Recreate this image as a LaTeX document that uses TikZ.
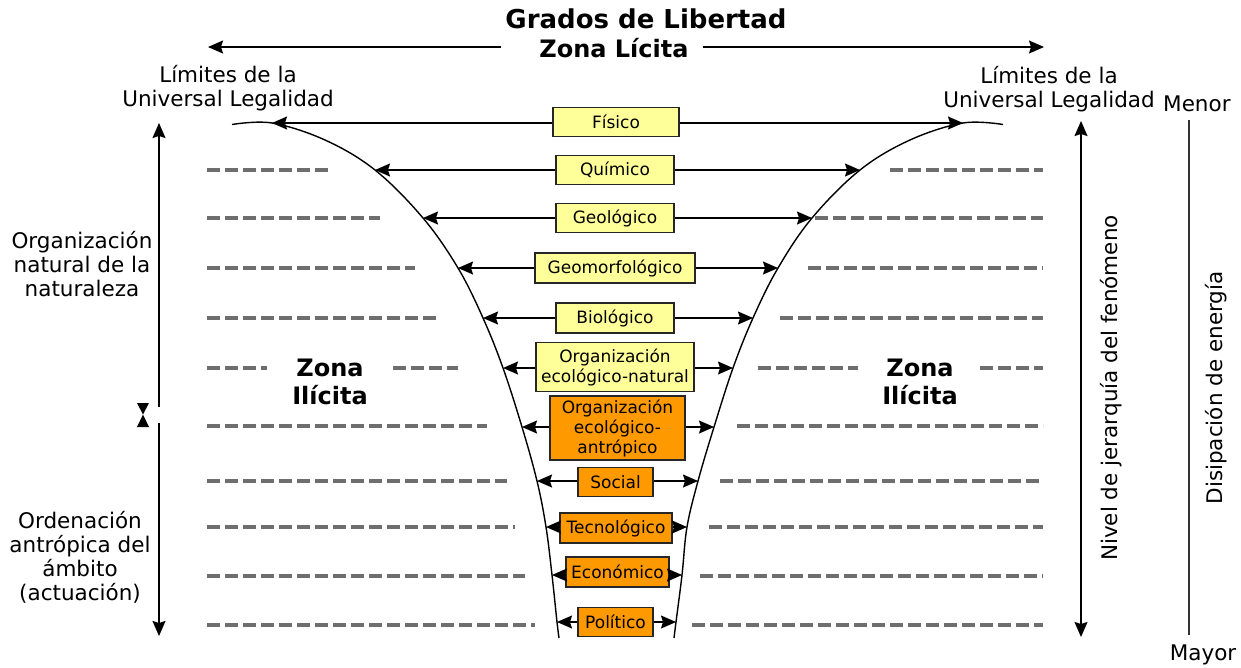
\documentclass[tikz,border=0pt]{standalone}
\usepackage{fontspec}
\setmainfont{DejaVu Sans}
\usetikzlibrary{arrows.meta}
\definecolor{boxyellow}{HTML}{FFFF99}
\definecolor{boxorange}{HTML}{FF9900}
\definecolor{dashgray}{HTML}{6E6E6E}
\tikzset{
  arr/.style={line width=1.4pt, -{Stealth[length=15pt,width=13pt,inset=2pt]}},
  funnel/.style={line width=1.4pt},
  lvl/.style={draw=black!85, line width=1.3pt, inner sep=0pt, align=center,
     font=\fontsize{17}{20}\selectfont},
  ybox/.style={lvl, fill=boxyellow},
  obox/.style={lvl, fill=boxorange},
  dsh/.style={draw=dashgray, line width=3.2pt, dash pattern=on 13pt off 5pt},
  dshb/.style={draw=dashgray, line width=4.2pt, dash pattern=on 13pt off 5pt},
  lab/.style={align=center, font=\fontsize{21.5}{24}\selectfont, inner sep=0pt},
  blab/.style={align=center, font=\fontsize{24}{28}\selectfont\bfseries, inner sep=0pt},
}
\begin{document}
\begin{tikzpicture}[x=1pt,y=-1pt]
\useasboundingbox (0,0) rectangle (1241,667);

% titles
\node[blab, font=\fontsize{26}{28}\selectfont\bfseries] (gl) at (646,19) {Grados de Libertad};
\node[blab] (zl) at (614,48) {Zona Lícita};
\coordinate (tl) at (208,47);
\coordinate (tr) at (1044,47);
\draw[arr] (501,47) -- (tl);
\draw[arr] (703,47) -- (tr);

\node[lab] (liml) at (228,88) {Límites de la\\Universal Legalidad};
\node[lab] (limr) at (1049,89) {Límites de la\\Universal Legalidad};
\node[lab, anchor=west] (menor) at (1163,104) {Menor};
\node[lab] (mayor) at (1203,655) {Mayor};

% funnel curve points
\coordinate (L1) at (272,123);
\coordinate (L2) at (375,170);
\coordinate (L3) at (423,218);
\coordinate (L4) at (458,268);
\coordinate (L5) at (483,318);
\coordinate (L6) at (503,368);
\coordinate (L7) at (522,427);
\coordinate (L8) at (537,481);
\coordinate (L9) at (546,527);
\coordinate (L10) at (552,575);
\coordinate (L11) at (557,622);
\coordinate (R1) at (963,123);
\coordinate (R2) at (860,170);
\coordinate (R3) at (812,218);
\coordinate (R4) at (778,268);
\coordinate (R5) at (753,318);
\coordinate (R6) at (733,368);
\coordinate (R7) at (714,427);
\coordinate (R8) at (698,481);
\coordinate (R9) at (687,527);
\coordinate (R10) at (682,575);
\coordinate (R11) at (676,622);

\draw[funnel] plot[smooth, tension=0.6] coordinates {(232,124.5) (272,123) (325,140) (375,170) (423,218) (458,268) (483,318) (503,368) (522,427) (537,481) (546,527) (552,575) (557,622) (559,638)};
\draw[funnel] plot[smooth, tension=0.6] coordinates {(1003,124.5) (963,123) (910,140) (860,170) (812,218) (778,268) (753,318) (733,368) (714,427) (698,481) (687,527) (682,575) (676,622) (674,638)};

% dashed level lines
\draw[dsh] (207,170) -- (330,170);  \draw[dsh] (890,170) -- (1043,170);
\draw[dsh] (207,218) -- (380,218);  \draw[dsh] (815,218) -- (1043,218);
\draw[dsh] (207,268) -- (415,268);  \draw[dsh] (808,268) -- (1043,268);
\draw[dsh] (207,318) -- (440,318);  \draw[dsh] (780,318) -- (1043,318);
\draw[dsh] (207,368) -- (267,368);  \draw[dsh] (393,368) -- (458,368);
\draw[dsh] (758,368) -- (858,368);  \draw[dsh] (980,368) -- (1043,368);
\draw[dsh] (207,426) -- (487,426);  \draw[dsh] (737,426) -- (1043,426);
\draw[dshb] (207,481) -- (507,481); \draw[dshb] (720,481) -- (1043,481);
\draw[dsh] (207,527) -- (515,527);  \draw[dsh] (709,527) -- (1043,527);
\draw[dsh] (207,576) -- (525,576);  \draw[dsh] (700,576) -- (1043,576);
\draw[dshb] (207,625) -- (535,625); \draw[dshb] (692,625) -- (1043,625);

% level boxes
\node[ybox, minimum width=126pt, minimum height=29pt] (b1) at (616,122) {Físico};
\node[ybox, minimum width=118pt, minimum height=29pt] (b2) at (615,170) {Químico};
\node[ybox, minimum width=118pt, minimum height=29pt] (b3) at (615,218) {Geológico};
\node[ybox, minimum width=160pt, minimum height=30pt] (b4) at (615,268) {Geomorfológico};
\node[ybox, minimum width=118pt, minimum height=30pt] (b5) at (615,318) {Biológico};
\node[ybox, minimum width=158pt, minimum height=49pt] (b6) at (615,367) {Organización\\ecológico-natural};
\node[obox, minimum width=135pt, minimum height=64pt] (b7) at (617.5,428) {Organización\\ecológico-\\antrópico};
\node[obox, minimum width=75pt, minimum height=29pt] (b8) at (615.5,482) {Social};
\node[obox, minimum width=112pt, minimum height=30pt] (b9) at (616,528) {Tecnológico};
\node[obox, minimum width=103pt, minimum height=30pt] (b10) at (617.5,572) {Económico};
\node[obox, minimum width=75pt, minimum height=29pt] (b11) at (615.5,622) {Político};

% arrows from boxes to the funnel
\foreach \i in {1,...,11} {
  \draw[arr] (b\i.west |- L\i) -- (L\i);
  \draw[arr] (b\i.east |- R\i) -- (R\i);
}

% Zona Ilicita
\node[blab] (zil) at (330,382) {Zona\\Ilícita};
\node[blab] (zir) at (920,382) {Zona\\Ilícita};

% left axis
\node[lab] (onn) at (82,264) {Organización\\natural de la\\naturaleza};
\node[lab] (oaa) at (80,557) {Ordenación\\antrópica del\\ámbito\\(actuación)};
\coordinate (lt) at (159,123);
\coordinate (lb) at (159,636);
\draw[arr] (159,407) -- (lt);
\draw[arr] (159,423) -- (lb);
\fill (137,403) -- (149,403) -- (143,414.5) -- cycle;
\fill (137,427) -- (149,427) -- (143,414.5) -- cycle;

% right axis
\coordinate (rt) at (1081,121);
\coordinate (rb) at (1081,637);
\draw[arr] (1081,380) -- (rt);
\draw[arr] (1081,380) -- (rb);
\node[lab, rotate=90] (njf) at (1111,388) {Nivel de jerarquía del fenómeno};
\coordinate (dt) at (1189,120);
\coordinate (db) at (1189,635);
\draw[line width=1.3pt, black!80] (dt) -- (db);
\node[lab, rotate=90] (dis) at (1216,388) {Disipación de energía};
\end{tikzpicture}
\end{document}
